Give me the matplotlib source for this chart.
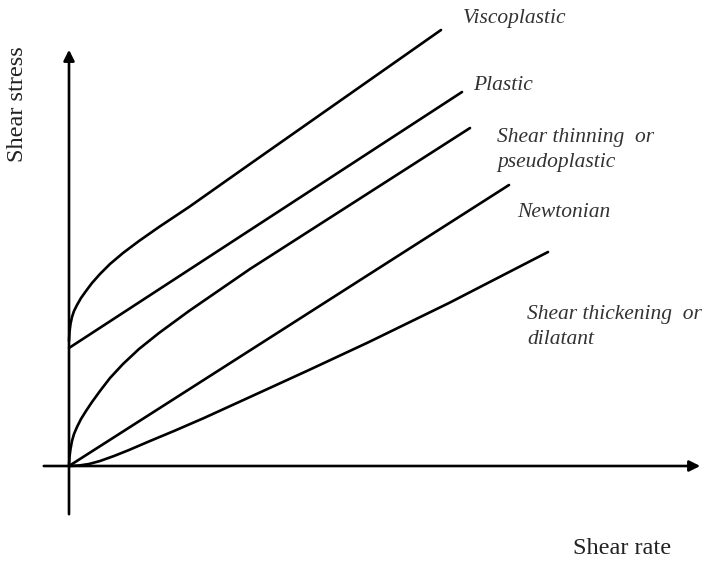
import numpy as np
import matplotlib.pyplot as plt

# flow curves (x = shear rate, y = shear stress, arbitrary units)
visco_x = [0, 0.5, 1.5, 3, 5, 8, 12, 17, 23, 31, 41, 54, 70, 90, 120, 181, 372]
visco_y = [125, 134, 142, 149, 155, 161, 168, 175, 183, 192, 202, 213, 225, 239, 259, 302, 436]

plastic_x = [0, 393]
plastic_y = [118, 374]

thin_x = [0, 0.5, 1.5, 3, 5, 8, 12, 17, 23, 31, 41, 54, 70, 90, 120, 181, 401]
thin_y = [0, 9, 17, 25, 32, 39, 47, 55, 64, 75, 88, 102, 117, 133, 155, 197, 338]

newton_x = [0, 440]
newton_y = [0, 281]

thick_x = [0, 10, 20, 31, 45, 60, 81, 105, 135, 181, 240, 300, 380, 479]
thick_y = [0, 0.5, 2, 5, 10, 16, 25, 35, 48, 69, 96, 124, 163, 214]

labels = ['Viscoplastic', 'Plastic', 'Shear thinning  or\npseudoplastic',
          'Newtonian', 'Shear thickening  or\ndilatant']
label_pos = [(394, 457), (404, 390), (428, 338), (448, 263), (458, 161)]

# ===========================================================
fig = plt.figure(figsize=(7.1, 5.61), dpi=100)
ax = fig.add_axes([0, 0, 1, 1])
ax.set_xlim(-69, 641)
ax.set_ylim(-95, 466)
ax.axis('off')

lw = 1.9
for xs, ys in [(visco_x, visco_y), (plastic_x, plastic_y), (thin_x, thin_y),
               (newton_x, newton_y), (thick_x, thick_y)]:
    ax.plot(xs, ys, 'k-', linewidth=lw, solid_capstyle='round', solid_joinstyle='round')

# axes as arrows
ax.annotate('', xy=(634, 0), xytext=(-28, 0),
            arrowprops=dict(arrowstyle='-|>', lw=lw, color='black', mutation_scale=16))
ax.annotate('', xy=(0, 419), xytext=(0, -51),
            arrowprops=dict(arrowstyle='-|>', lw=lw, color='black', mutation_scale=16))

ax.text(-51, 362, 'Shear stress', rotation=90, ha='center', va='center',
        fontsize=17.5, family='Liberation Serif', color='#222222')
ax.text(553, -82, 'Shear rate', ha='center', va='center',
        fontsize=17.5, family='Liberation Serif', color='#222222')

for lab, (tx, ty) in zip(labels, label_pos):
    ax.text(tx, ty, lab, ha='left', va='top', fontsize=15.5, style='italic',
            family='Liberation Serif', color='#333333', linespacing=1.45)

fig.savefig('out.png', dpi=100)
